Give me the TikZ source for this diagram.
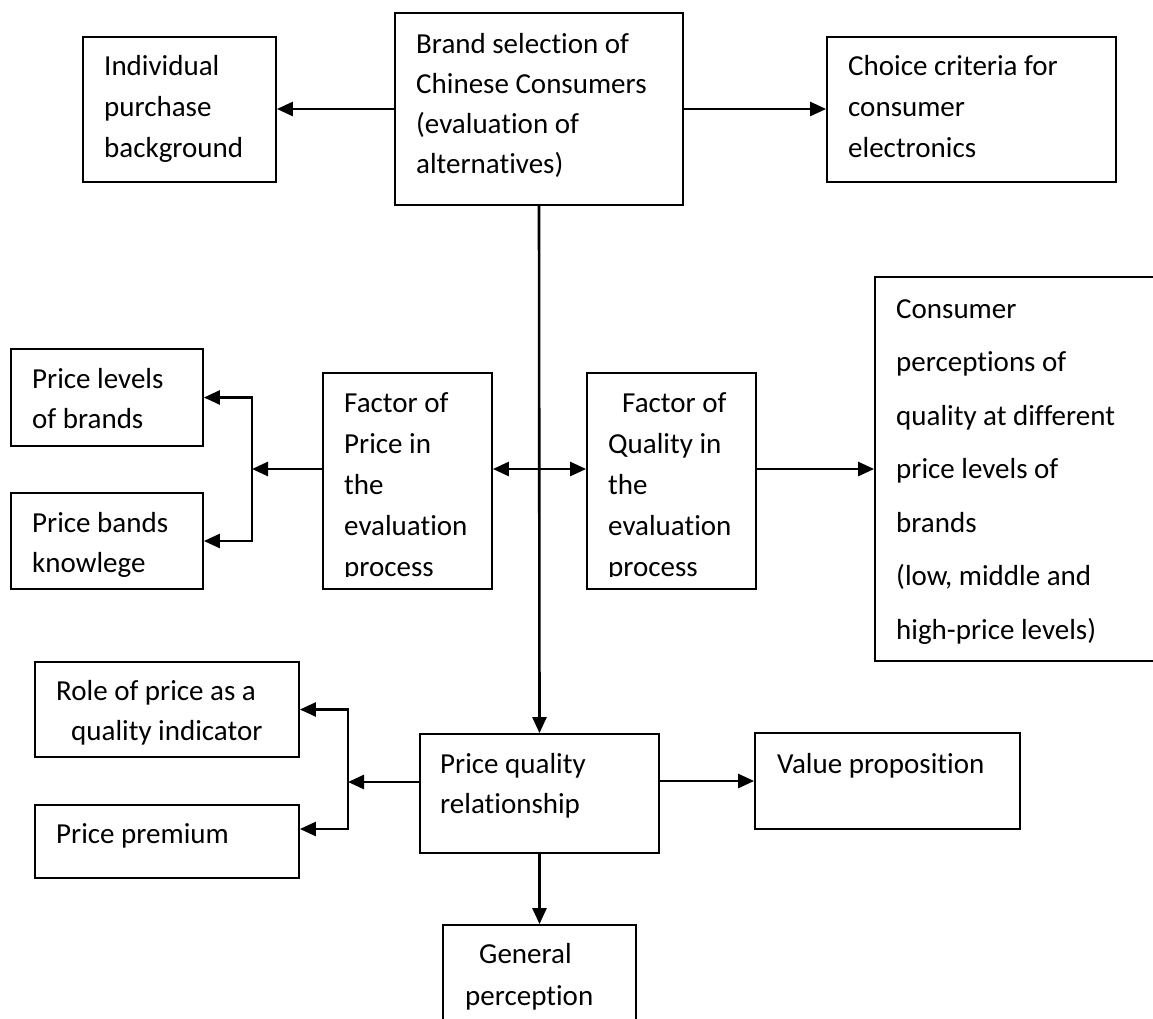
\documentclass[tikz,border=0pt]{standalone}
\usepackage{fontspec}
\setmainfont{Carlito}[Ligatures={NoCommon,NoRare,NoContextual}]
\usetikzlibrary{arrows.meta,calc}

% box from its corners (x1,y1) to (x2,y2), y running downwards
\newcommand{\fbx}[5]{%
  \node[box, minimum width={(#4-#2)*1pt}, minimum height={(#5-#3)*1pt}]
    (#1) at ({(#2+#4)/2},{(#3+#5)/2}) {};}

\begin{document}
\begin{tikzpicture}[x=1pt, y=-1pt,
  box/.style={draw, line width=1.8pt, inner sep=0pt},
  link/.style={line width=2.6pt},
  conn/.style={link, -{Triangle[length=16pt,width=14pt]}},
  twoway/.style={link, {Triangle[length=16pt,width=14pt]}-{Triangle[length=16pt,width=14pt]}},
  txt/.style={anchor=north west, inner sep=0pt, align=left,
    font=\fontsize{29}{#1}\selectfont, yshift={0.7*#1pt}},
  txt/.default=41]

\useasboundingbox (0,0) rectangle (1153,1019);
\fill[white] (0,0) rectangle (1153,1019);
\clip (0,0) rectangle (1153,1019);

% boxes
\fbx{ind}{83}{37}{276}{182}
\fbx{brand}{395}{13}{683}{205}
\fbx{choice}{827}{37}{1116}{182}
\fbx{plev}{11}{349}{203}{446}
\fbx{pband}{11}{493}{203}{589}
\fbx{fprice}{323}{373}{492}{589}
\fbx{fqual}{587}{373}{756}{589}
\fbx{cons}{875}{277}{1170}{661}
\fbx{role}{35}{662}{299}{757}
\fbx{prem}{35}{805}{299}{878}
\fbx{pq}{420}{734}{659}{853}
\fbx{value}{755}{733}{1020}{829}
\fbx{gen}{443}{925}{636}{1040}

% texts
\node[txt] (ind-t) at (104,75) {Individual\strut\\purchase\strut\\background\strut};
\node[txt=40] (brand-t) at (416,53) {Brand selection of\strut\\Chinese Consumers\strut\\(evaluation of\strut\\alternatives)\strut};
\node[txt] (choice-t) at (848,75) {Choice criteria for\strut\\consumer\strut\\electronics\strut};
\node[txt=40] (plev-t) at (32,388) {Price levels\strut\\of brands\strut};
\node[txt=40] (pband-t) at (32,532) {Price bands\strut\\knowlege\strut};
\begin{scope}
  \clip (fprice.north west) rectangle ($(fprice.south east)+(0,-13)$);
  \node[txt] (fprice-t) at (344,412) {Factor of\strut\\Price in\strut\\the\strut\\evaluation\strut\\process\strut};
\end{scope}
\begin{scope}
  \clip (fqual.north west) rectangle ($(fqual.south east)+(0,-13)$);
  \node[txt] (fqual-t) at (608,412) {\hspace*{14pt}Factor of\strut\\Quality in\strut\\the\strut\\evaluation\strut\\process\strut};
\end{scope}
\node[txt=53.5] (cons-t) at (896,318) {Consumer\strut\\perceptions of\strut\\quality at different\strut\\price levels of\strut\\brands\strut\\(low, middle and\strut\\high-price levels)\strut};
\node[txt=40] (role-t) at (56,700) {Role of price as a\strut\\\hspace*{15pt}quality indicator\strut};
\node[txt] (prem-t) at (56,843) {Price premium\strut};
\node[txt=40] (pq-t) at (440,773) {Price quality\strut\\relationship\strut};
\node[txt] (value-t) at (777,773) {Value proposition\strut};
\node[txt=42] (gen-t) at (465,963) {\hspace*{14pt}General\strut\\perception\strut};

% connectors
\coordinate (mid) at (539,469);
\coordinate (b1) at (252,469);
\coordinate (b2) at (348,782);
\coordinate (y829) at (0,829);

\draw[conn] (brand.west) -- (brand.west -| ind.east);
\draw[conn] (brand.east) -- (brand.east -| choice.west);
\draw[conn] (brand.south) -- (pq.north);
\draw[twoway] (fprice.east |- mid) -- (fqual.west |- mid);
\draw[conn] (fqual.east |- mid) -- (cons.west |- mid);
\draw[conn] (fprice.west |- mid) -- (b1);
\draw[conn] (b1) |- (plev.east);
\draw[conn] (b1) |- (pband.east);
\draw[conn] (pq.west |- b2) -- (b2);
\draw[conn] (b2) |- (role.east);
\draw[conn] (b2) |- (prem.east |- y829);
\draw[conn] (value.west -| pq.east) -- (value.west);
\draw[conn] (pq.south) -- (gen.north);
\end{tikzpicture}
\end{document}
